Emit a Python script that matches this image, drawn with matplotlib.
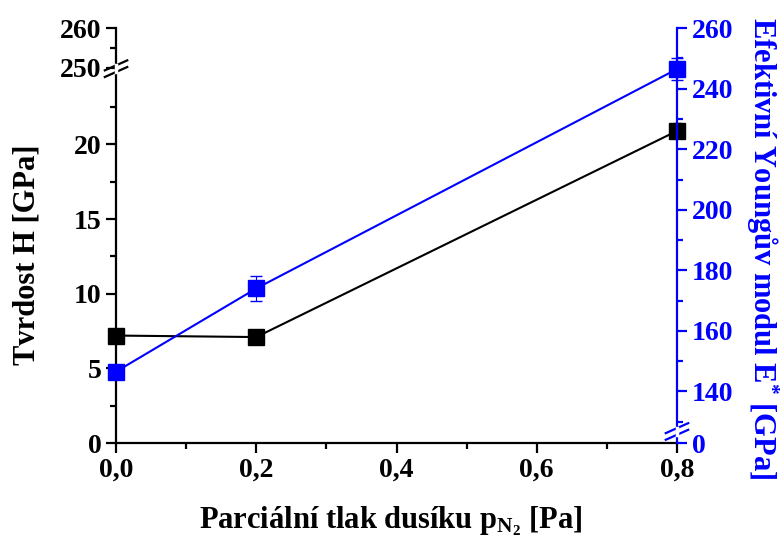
import numpy as np
import matplotlib
matplotlib.use("Agg")
import matplotlib.pyplot as plt
from matplotlib.scale import FuncScale

plt.rcParams["font.family"] = ["Liberation Serif", "DejaVu Serif"]
plt.rcParams["font.weight"] = "bold"
plt.rcParams["mathtext.fontset"] = "custom"
plt.rcParams["mathtext.rm"] = "Liberation Serif:bold"
plt.rcParams["mathtext.it"] = "Liberation Serif:bold"
plt.rcParams["mathtext.bf"] = "Liberation Serif:bold"

# === data ===
tlak = [0.0, 0.2, 0.8]
tvrdost = [7.2, 7.1, 20.9]
tvrdost_err = [0.3, 0.3, 0.5]
modul = [146.5, 174.0, 246.5]
modul_err = [1.0, 4.0, 3.5]

x_ticks = [0.0, 0.2, 0.4, 0.6, 0.8]
x_labels = ["0,0", "0,2", "0,4", "0,6", "0,8"]
h_ticks = [0, 5, 10, 15, 20, 250, 260]
h_minor = [2.5, 7.5, 12.5, 17.5, 22.5, 255]
e_ticks = [0, 140, 160, 180, 200, 220, 240, 260]
e_minor = [130, 150, 170, 190, 210, 230, 250]

# piecewise scales for the broken axes
h_val = [0, 25, 250, 260]
h_pos = [0, 0.9, 0.905, 1.0]
e_val = [0, 5, 127, 260]
e_pos = [0, 0.025, 0.03, 1.0]

modra = "#0000ff"

fig = plt.figure(figsize=(7.84, 5.43), dpi=100)
ax = fig.add_axes([0.148, 0.184, 0.7155, 0.764])
ax2 = ax.twinx()

ax.set_yscale(FuncScale(ax.yaxis, (lambda v: np.interp(v, h_val, h_pos),
                                   lambda p: np.interp(p, h_pos, h_val))))
ax2.set_yscale(FuncScale(ax2.yaxis, (lambda v: np.interp(v, e_val, e_pos),
                                     lambda p: np.interp(p, e_pos, e_val))))

ax.errorbar(tlak, tvrdost, yerr=tvrdost_err, color="black", marker="s",
            markersize=11, lw=1.5, capsize=3, elinewidth=0.8, clip_on=False, zorder=3)
ax2.errorbar(tlak, modul, yerr=modul_err, color=modra, marker="s",
             markersize=11, lw=1.5, capsize=4, elinewidth=0.8, clip_on=False, zorder=3)

ax.set_xlim(0, 0.8)
ax.set_ylim(0, 260)
ax2.set_ylim(0, 260)

ax.set_xticks(x_ticks)
ax.set_xticklabels(x_labels)
ax.set_xticks([0.1, 0.3, 0.5, 0.7], minor=True)
ax.set_yticks(h_ticks)
ax.set_yticklabels([str(t) for t in h_ticks])
ax.set_yticks(h_minor, minor=True)
ax2.set_yticks(e_ticks)
ax2.set_yticklabels([str(t) for t in e_ticks])
ax2.set_yticks(e_minor, minor=True)

for a in (ax, ax2):
    a.spines["top"].set_visible(False)
    for s in a.spines.values():
        s.set_linewidth(1.6)
ax.spines["right"].set_visible(False)
ax2.spines["left"].set_visible(False)
ax2.spines["bottom"].set_visible(False)
ax2.spines["right"].set_color(modra)

ax.tick_params(which="major", length=7, width=1.6, labelsize=20)
ax.tick_params(which="minor", length=4, width=1.6)
ax2.tick_params(which="major", length=7, width=1.6, labelsize=20,
                colors=modra)
ax2.tick_params(which="minor", length=4, width=1.6, colors=modra)

ax.set_xlabel(r"Parciální tlak dusíku p$_{\mathrm{N_2}}$ [Pa]", fontsize=22,
              fontweight="bold")
ax.xaxis.set_label_coords(0.49, -0.148)
ax.set_ylabel("Tvrdost H [GPa]", fontsize=22, fontweight="bold",
              va="center")
ax.yaxis.set_label_coords(-0.158, 0.455)
ax2.set_ylabel(r"Efektivní Youngův modul E$^{*}$ [GPa]", fontsize=22,
               fontweight="bold", color=modra, rotation=270, va="center")
ax2.yaxis.set_label_coords(1.152, 0.47)

# break marks
def zlom(a, x, y, barva):
    d = 0.012
    for off in (-0.008, 0.008):
        a.plot([x - 0.02, x + 0.02], [y + off - d, y + off + d],
               transform=a.transAxes, color=barva, lw=1.6, clip_on=False)
    a.plot([x, x], [y - 0.008, y + 0.008], transform=a.transAxes,
           color="white", lw=2.5, clip_on=False, zorder=4)

zlom(ax, 0.0, 0.9025, "black")
zlom(ax2, 1.0, 0.028, modra)

fig.savefig("out.png", dpi=100)
